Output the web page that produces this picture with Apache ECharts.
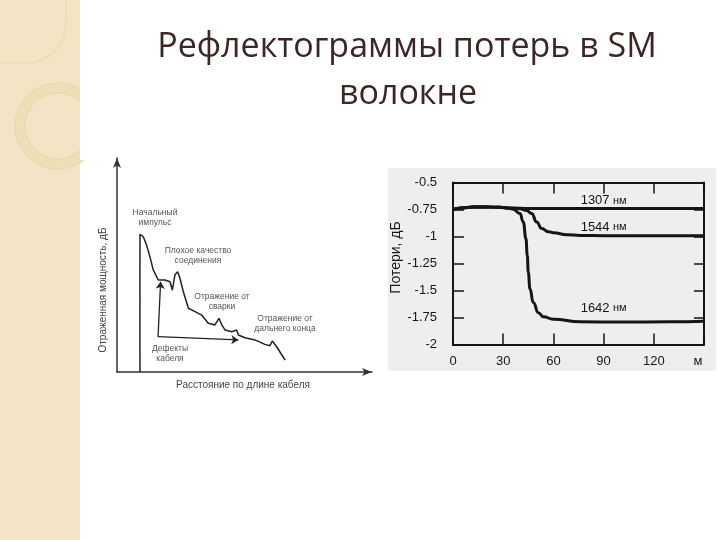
<!DOCTYPE html>
<html><head><meta charset="utf-8">
<script src="https://cdn.jsdelivr.net/npm/echarts@6/dist/echarts.min.js"></script>
<style>html,body{margin:0;padding:0;background:#fff}#c{width:720px;height:540px}</style>
</head><body><div id="c"></div>
<script>
// ---- text ----
const titleLine1 = 'Рефлектограммы потерь в SM';
const titleLine2 = 'волокне';
const lossAxisName = 'Потери, дБ';
const distUnit = 'м';
const seriesNames = ['1307 нм', '1544 нм', '1642 нм'];
const sketchXName = 'Расстояние по длине кабеля';
const sketchYName = 'Отраженная мощность, дБ';
const sketchNotes = ['Начальный\nимпульс', 'Плохое качество\nсоединения', 'Отражение от\nсварки', 'Отражение от\nдальнего конца', 'Дефекты\nкабеля'];

// ---- axis ranges / ticks ----
const distTicks = [0, 30, 60, 90, 120, 150];
const lossTicks = [-2, -1.75, -1.5, -1.25, -1, -0.75, -0.5];

// ---- loss curves [distance m, loss dB] ----
const loss1307 = [[0,-0.75],[5,-0.735],[12,-0.727],[20,-0.726],[28,-0.73],[35,-0.736],[45,-0.74],[60,-0.74],[90,-0.74],[120,-0.74],[150,-0.74]];
const loss1544 = [[0,-0.75],[5,-0.735],[12,-0.727],[20,-0.726],[28,-0.73],[35,-0.738],[40,-0.744],[44,-0.76],[47,-0.787],[50,-0.866],[53,-0.927],[57,-0.955],[60,-0.965],[68,-0.983],[76,-0.99],[90,-0.993],[120,-0.993],[150,-0.993]];
const loss1642 = [[0,-0.75],[5,-0.735],[12,-0.727],[20,-0.726],[28,-0.73],[33,-0.738],[36,-0.747],[40,-0.787],[42,-0.866],[43.6,-1.02],[44.4,-1.176],[45,-1.332],[46,-1.487],[48,-1.612],[51,-1.705],[54,-1.743],[60,-1.767],[76,-1.79],[100,-1.792],[130,-1.79],[150,-1.785]];

// ---- sketch reflectogram (arbitrary units) ----
const sketchCurve = [[9,0],[9,64.3],[10.3,63.2],[11.6,59.3],[12.9,53.9],[14.2,47.7],[16.2,43],[18.8,43],[20.8,42.2],[21.7,38.3],[22.7,45.3],[23.8,46.9],[24.7,43.8],[26,37.5],[28,29.8],[30.6,28.2],[33.2,26.6],[35.8,22.8],[38.4,22],[40,25.1],[41.1,22],[42.4,19.6],[45,18.8],[46.9,19.6],[47.6,17.3],[50.2,16],[54.1,15],[58,12.9],[60,12.3],[60.9,14.5],[62.6,11.8],[65.9,5.6]];
const defectArrowStart = [16.1, 16.5];
const defectArrowEnds = [[17.1, 42.2], [47.6, 15.0]];

const chart = echarts.init(document.getElementById('c'), null, {renderer: 'canvas'});
const ink = '#151515';
const axisFont = 'Liberation Sans, Arial, sans-serif';

function noteText(txt, x, y) {
  return {type: 'text', x: x, y: y, z: 5, style: {text: txt, font: '8.5px ' + axisFont, fill: '#555', align: 'center', verticalAlign: 'middle', lineHeight: 10}};
}
function nameLabel() {
  return {show: true, position: 'inside', formatter: p => '{a|' + p.value.split(' ')[0] + '} {b|' + p.value.split(' ')[1] + '}',
    rich: {a: {fontSize: 13, fontFamily: axisFont, color: ink}, b: {fontSize: 11, fontFamily: axisFont, color: ink}}};
}
const frameLine = {onZero: false, lineStyle: {color: ink, width: 2}};
const frameTick = {inside: true, length: 11, lineStyle: {color: ink, width: 1.5}};

const option = {
  animation: false,
  backgroundColor: '#ffffff',
  graphic: [
    // sidebar decoration
    {type: 'rect', shape: {x: 0, y: 0, width: 80, height: 540}, style: {fill: '#f2e4c4'}},
    {type: 'rect', shape: {x: -20, y: -20, width: 86, height: 83, r: [0, 0, 40, 0]}, style: {fill: 'none', stroke: '#eadaae', lineWidth: 1.2}},
    {type: 'ring', shape: {cx: 58, cy: 126, r: 43, r0: 33}, style: {fill: '#efdfb9', stroke: '#e8d6a8', lineWidth: 1}},
    {type: 'rect', shape: {x: 80, y: 60, width: 30, height: 100}, style: {fill: '#ffffff'}},
    // title
    {type: 'text', x: 407, y: 47, style: {text: titleLine1, font: '34px "Open Sans", sans-serif', fill: '#3c2626', align: 'center', verticalAlign: 'middle'}},
    {type: 'text', x: 408, y: 94, style: {text: titleLine2, font: '34px "Open Sans", sans-serif', fill: '#3c2626', align: 'center', verticalAlign: 'middle'}},
    // scanned-figure background
    {type: 'rect', shape: {x: 388, y: 168, width: 328, height: 203}, style: {fill: '#eeeeee'}},
    {type: 'text', x: 698, y: 361, z: 5, style: {text: distUnit, font: '13px ' + axisFont, fill: ink, align: 'center', verticalAlign: 'middle'}},
    // sketch annotations
    noteText(sketchNotes[0], 155, 218),
    noteText(sketchNotes[1], 198, 256),
    noteText(sketchNotes[2], 222, 302),
    noteText(sketchNotes[3], 285, 324),
    noteText(sketchNotes[4], 170, 354),
    {type: 'text', x: 243, y: 385, z: 5, style: {text: sketchXName, font: '10px ' + axisFont, fill: '#444', align: 'center', verticalAlign: 'middle'}},
    {type: 'text', x: 103, y: 290, rotation: Math.PI / 2, z: 5, style: {text: sketchYName, font: '10px ' + axisFont, fill: '#444', align: 'center', verticalAlign: 'middle'}}
  ],
  grid: [
    {left: 453, top: 182.5, width: 251, height: 162},
    {left: 117, top: 158, width: 255, height: 214}
  ],
  xAxis: [
    {gridIndex: 0, type: 'value', min: distTicks[0], max: distTicks[distTicks.length - 1], interval: 30,
      axisLine: frameLine, axisTick: frameTick, splitLine: {show: false},
      axisLabel: {margin: 10, fontSize: 13, fontFamily: axisFont, color: ink, formatter: v => (v === distTicks[distTicks.length - 1] ? '' : String(v))}},
    {gridIndex: 0, type: 'value', position: 'top', min: distTicks[0], max: distTicks[distTicks.length - 1], interval: 30,
      axisLine: frameLine, axisTick: frameTick, splitLine: {show: false}, axisLabel: {show: false}},
    {gridIndex: 1, type: 'value', min: 0, max: 100,
      axisLine: {onZero: false, symbol: ['none', 'arrow'], symbolSize: [6, 10], lineStyle: {color: '#333', width: 1.5}},
      axisTick: {show: false}, axisLabel: {show: false}, splitLine: {show: false}}
  ],
  yAxis: [
    {gridIndex: 0, type: 'value', min: lossTicks[0], max: lossTicks[lossTicks.length - 1], interval: 0.25,
      name: lossAxisName, nameLocation: 'middle', nameGap: 50,
      nameTextStyle: {fontSize: 14, fontFamily: axisFont, color: ink, padding: [0, 0, 0, 12]},
      axisLine: frameLine, axisTick: frameTick, splitLine: {show: false},
      axisLabel: {margin: 16, fontSize: 13, fontFamily: axisFont, color: ink}},
    {gridIndex: 0, type: 'value', position: 'right', min: lossTicks[0], max: lossTicks[lossTicks.length - 1], interval: 0.25,
      axisLine: frameLine, axisTick: {inside: true, length: 10, lineStyle: {color: ink, width: 1.5}},
      splitLine: {show: false}, axisLabel: {show: false}},
    {gridIndex: 1, type: 'value', min: 0, max: 100,
      axisLine: {onZero: false, symbol: ['none', 'arrow'], symbolSize: [6, 10], lineStyle: {color: '#333', width: 1.5}},
      axisTick: {show: false}, axisLabel: {show: false}, splitLine: {show: false}}
  ],
  series: [
    {name: seriesNames[0], type: 'line', xAxisIndex: 0, yAxisIndex: 0, data: loss1307, smooth: true, smoothMonotone: 'x', showSymbol: false,
      lineStyle: {color: ink, width: 3},
      markPoint: {symbol: 'circle', symbolSize: 0, data: [{coord: [90, -0.67], value: seriesNames[0]}], label: nameLabel()}},
    {name: seriesNames[1], type: 'line', xAxisIndex: 0, yAxisIndex: 0, data: loss1544, smooth: true, smoothMonotone: 'x', showSymbol: false,
      lineStyle: {color: ink, width: 3},
      markPoint: {symbol: 'circle', symbolSize: 0, data: [{coord: [90, -0.912], value: seriesNames[1]}], label: nameLabel()}},
    {name: seriesNames[2], type: 'line', xAxisIndex: 0, yAxisIndex: 0, data: loss1642, smooth: true, smoothMonotone: 'x', showSymbol: false,
      lineStyle: {color: ink, width: 3},
      markPoint: {symbol: 'circle', symbolSize: 0, data: [{coord: [90, -1.664], value: seriesNames[2]}], label: nameLabel()}},
    {name: 'sketch', type: 'line', xAxisIndex: 2, yAxisIndex: 2, data: sketchCurve, showSymbol: false,
      lineStyle: {color: '#222', width: 1.5},
      markLine: {silent: true, symbol: ['none', 'arrow'], symbolSize: 7, label: {show: false},
        lineStyle: {color: '#222', width: 1.3, type: 'solid'},
        data: defectArrowEnds.map(e => [{coord: defectArrowStart}, {coord: e}])}}
  ]
};
chart.setOption(option);
</script>
</body></html>
